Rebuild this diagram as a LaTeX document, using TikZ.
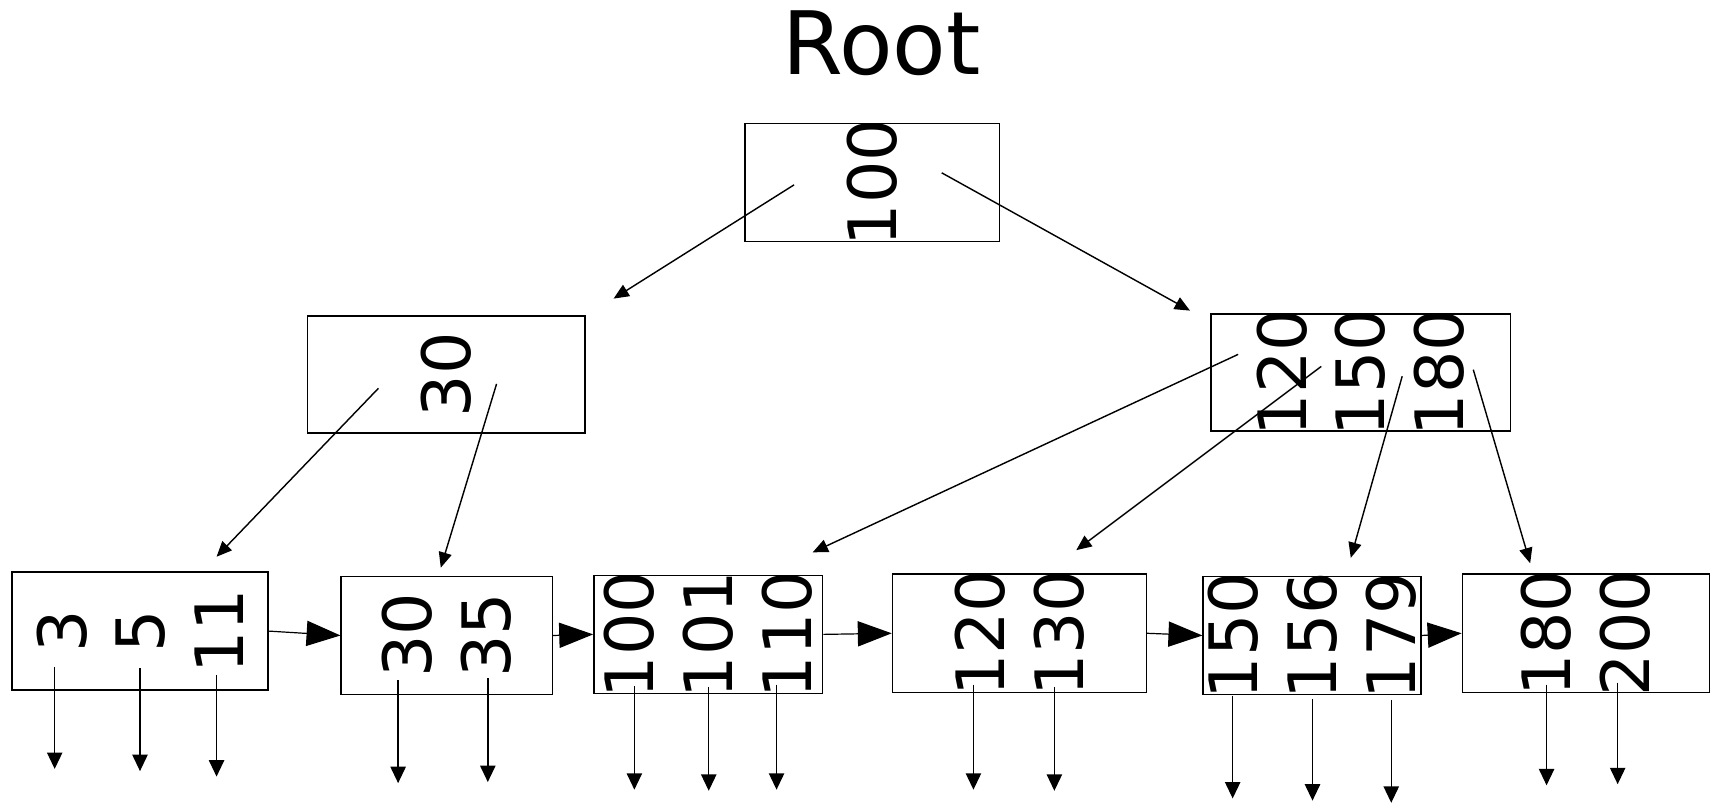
\documentclass[tikz,border=0pt]{standalone}
\usepackage{fontspec}
\setmainfont{DejaVu Sans}
\usetikzlibrary{arrows.meta}
\newcommand{\zb}[1]{\makebox[0pt]{#1}}
\begin{document}
\begin{tikzpicture}[x=1pt,y=-1pt,
  bbox/.style={draw, line width=1.4pt, rotate=90, inner sep=0pt, align=center,
    font=\fontsize{61}{72}\selectfont},
  link/.style={line width=1.3pt, -{Triangle[length=14pt,width=12pt]}},
  chain/.style={line width=1.1pt, -{Triangle[length=31pt,width=23pt]}},
  down/.style={line width=1.3pt, -{Triangle[length=15pt,width=14pt]}}]
\useasboundingbox (0,0) rectangle (1568,734);
\node[font=\fontsize{80}{96}\selectfont, anchor=base] (title) at (806,68) {Root};
% boxes: minimum width = box height, minimum height = box width (rotated)
\node[bbox, minimum width=108pt, minimum height=233pt] (root) at (797.5,167) {\zb{100}};
\node[bbox, minimum width=107pt, minimum height=254pt] (i1) at (408,342.5) {\zb{30}};
\node[bbox, minimum width=107pt, minimum height=274pt] (i2) at (1244,340.5) {\zb{120}\\\zb{150}\\\zb{180}};
\node[bbox, minimum width=108pt, minimum height=234pt] (l1) at (128,577) {\zb{3}\\\zb{5}\\\zb{11}};
\node[bbox, minimum width=108pt, minimum height=193pt] (l2) at (408.5,581) {\zb{30}\\\zb{35}};
\node[bbox, minimum width=108pt, minimum height=209pt] (l3) at (647.5,580) {\zb{100}\\\zb{101}\\\zb{110}};
\node[bbox, minimum width=108pt, minimum height=232pt] (l4) at (932,579) {\zb{120}\\\zb{130}};
\node[bbox, minimum width=108pt, minimum height=199pt] (l5) at (1199.5,581) {\zb{150}\\\zb{156}\\\zb{179}};
\node[bbox, minimum width=108pt, minimum height=226pt] (l6) at (1450,579) {\zb{180}\\\zb{200}};
% tree links
\coordinate (r1) at (726,169); \coordinate (r1e) at (561,273);
\coordinate (r2) at (861,158); \coordinate (r2e) at (1088,284);
\coordinate (a1) at (346,355); \coordinate (a1e) at (198,509);
\coordinate (a2) at (454,351); \coordinate (a2e) at (403,519);
\coordinate (b1) at (1132,324); \coordinate (b1e) at (743,505);
\coordinate (b2) at (1208,335); \coordinate (b2e) at (984,503);
\coordinate (b3) at (1282,344); \coordinate (b3e) at (1235,510);
\coordinate (b4) at (1347,338); \coordinate (b4e) at (1399,515);
\draw[link] (r1) -- (r1e);
\draw[link] (r2) -- (r2e);
\draw[link] (a1) -- (a1e);
\draw[link] (a2) -- (a2e);
\draw[link] (b1) -- (b1e);
\draw[link] (b2) -- (b2e);
\draw[link] (b3) -- (b3e);
\draw[link] (b4) -- (b4e);
% leaf chain
\draw[chain] (l1.south) -- (l2.north);
\draw[chain] (l2.south) -- (l3.north);
\draw[chain] (l3.south) -- (l4.north);
\draw[chain] (l4.south) -- (l5.north);
\draw[chain] (l5.south) -- (l6.north);
% down pointers
\foreach \n/\x/\ya/\yb in {d1/50/610/703, d2/128/611/705, d3/198/617/710,
  d4/364/622/716, d5/446/620/715,
  d6/580/627/722, d7/648/628/723, d8/710/626/722,
  d9/890/626/722, d10/964/628/723,
  d11/1127/636/730, d12/1200/639/732, d13/1272/640/734,
  d14/1414/626/718, d15/1479/624/717}{
  \coordinate (\n s) at (\x,\ya);
  \coordinate (\n e) at (\x,\yb);
  \draw[down] (\n s) -- (\n e);
}
\end{tikzpicture}
\end{document}
